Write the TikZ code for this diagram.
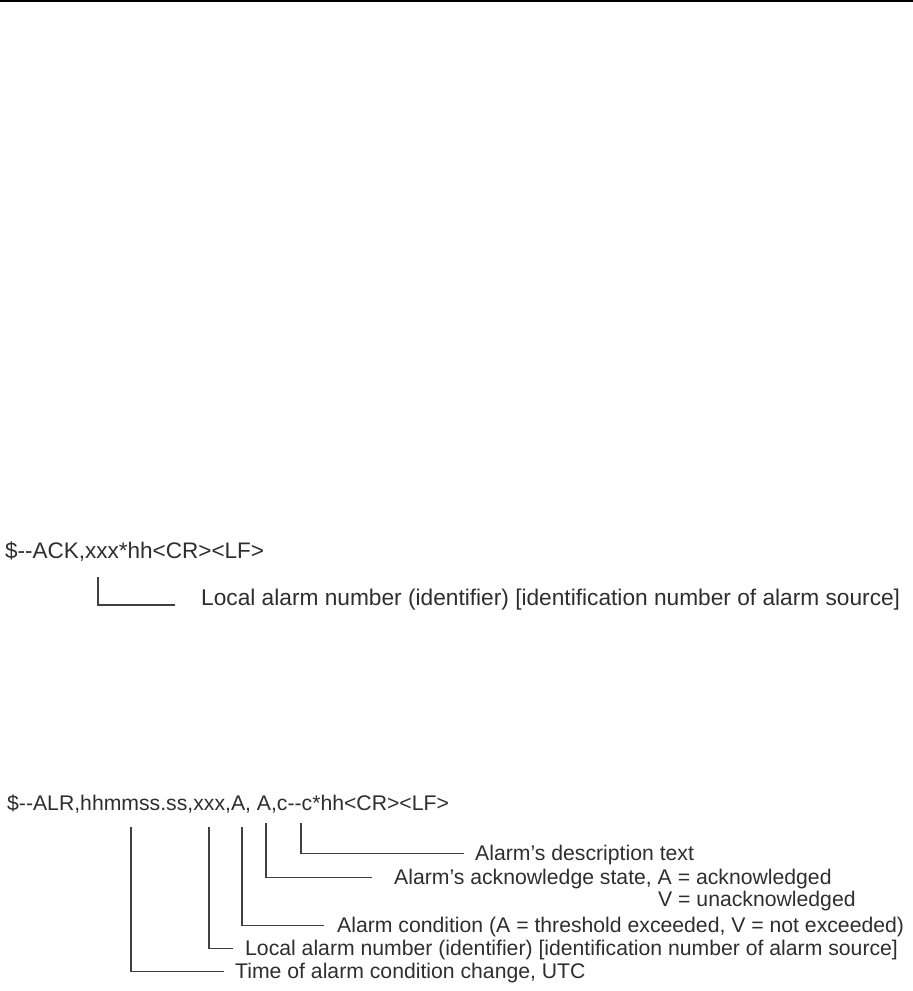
\documentclass[tikz,border=0pt]{standalone}
\usepackage{fontspec}
\setmainfont{Liberation Sans}
\usetikzlibrary{positioning,calc}
\tikzset{
  sent/.style={anchor=base west, inner sep=0pt, text=black!82, font=\fontsize{21.2}{25}\selectfont},
  lbl/.style={anchor=base west, inner sep=0pt, text=black!82, font=\fontsize{21.2}{25}\selectfont, text height=17pt, text depth=4pt},
  conn/.style={draw=black!75, line width=1.1pt},
  hrule/.style={draw=black, line width=2pt},
}

\begin{document}
\begin{tikzpicture}[x=1pt, y=-1pt]
\useasboundingbox (0,0) rectangle (913,991);
\draw[hrule] (0,1) -- (913,1);

% ACK sentence
\node[sent, font=\fontsize{22.5}{27}\selectfont] (ack) at (5,558) {\$-{}-ACK,xxx*hh<CR><LF>};
\coordinate (ackTop) at (98,577);
\node[lbl, font=\fontsize{22.7}{27}\selectfont] (ackLbl) at (201,605) {Local alarm number (identifier) [identification number of alarm source]};
\draw[conn] (ackTop) |- ([xshift=-26pt]ackLbl.base west);

% ALR sentence
\node[sent] (alr) at (7,810) {\$-{}-ALR,hhmmss.ss,xxx,A, A,c-{}-c*hh<CR><LF>};
\coordinate (tTime) at (131,827);
\coordinate (tLocal) at (209,827);
\coordinate (tCond) at (242,827);
\coordinate (tAck) at (266,823);
\coordinate (tDesc) at (301,823);

\node[lbl] (lDesc) at (475,860) {Alarm’s description text};
\node[lbl] (lAck) at (394,884) {Alarm’s acknowledge state, A = acknowledged};
\node[lbl] (lUnack) at (658,906.7) {V = unacknowledged};
\node[lbl] (lCond) at (337,932) {Alarm condition (A = threshold exceeded, V = not exceeded)};
\node[lbl] (lLocal) at (245,955) {Local alarm number (identifier) [identification number of alarm source]};
\node[lbl] (lTime) at (235,978) {Time of alarm condition change, UTC};

\draw[conn] (tDesc) |- ([xshift=-11pt]lDesc.west);
\draw[conn] (tAck) |- ([xshift=-22pt]lAck.west);
\draw[conn] (tCond) |- ([xshift=-13pt]lCond.west);
\draw[conn] (tLocal) |- ([xshift=-12pt]lLocal.west);
\draw[conn] (tTime) |- ([xshift=-11pt]lTime.west);
\end{tikzpicture}
\end{document}
